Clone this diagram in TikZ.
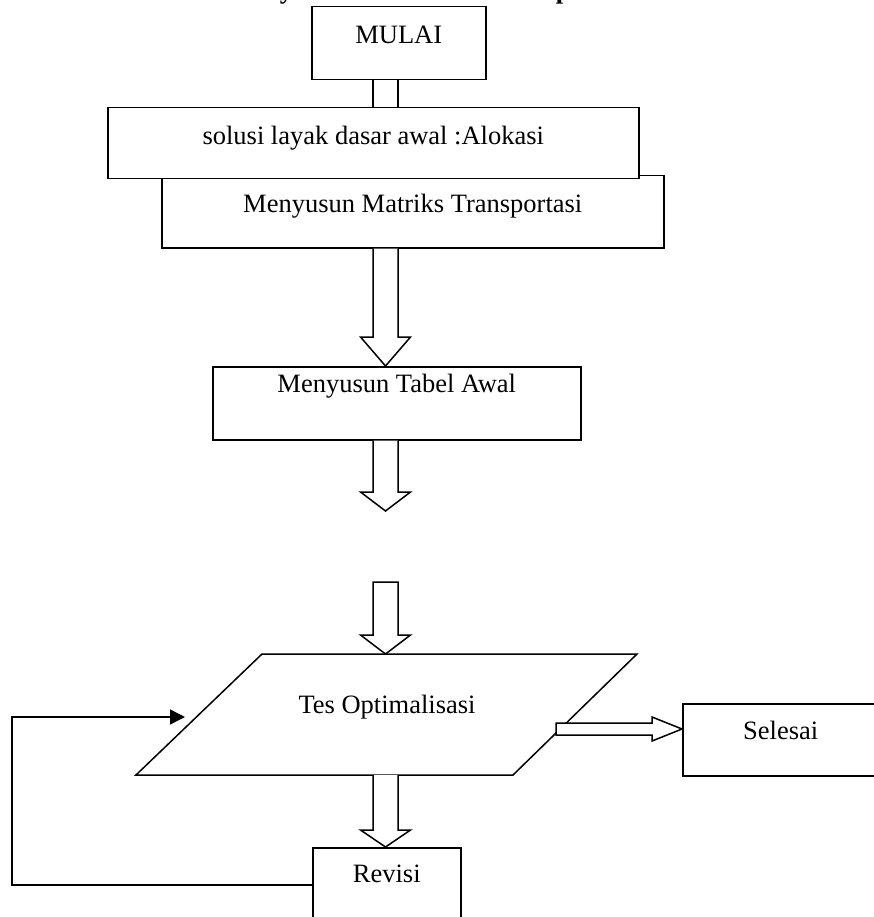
\documentclass[tikz,border=0pt]{standalone}
\usepackage{fontspec}
\setmainfont{Liberation Serif}
\usetikzlibrary{arrows.meta,calc}
\newcommand\blkdown[4]{% start, tip, head length, extra (cycle or empty)
  \draw[blk] ($(#1)+(-12.5,0)$) -- ($(#2)+(-12.5,-#3)$) -- ($(#2)+(-25,-#3)$) -- (#2)
    -- ($(#2)+(25,-#3)$) -- ($(#2)+(12.5,-#3)$) -- ($(#1)+(12.5,0)$) #4;}
\begin{document}
\begin{tikzpicture}[x=1pt,y=-1pt, line width=1.5pt,
  txt/.style={font=\fontsize{26.5}{30}\selectfont},
  box/.style={draw, fill=white, inner sep=0pt, txt, anchor=north west},
  blk/.style={draw, fill=white, line join=miter},
  lbl/.style={txt, inner sep=0pt, anchor=base},
  ttl/.style={font=\bfseries\fontsize{26.5}{30}\selectfont, inner sep=0pt, anchor=base west}]
\useasboundingbox (0,0) rectangle (873,917);
% clipped title (only descenders visible)
\node[ttl] (t1) at (279,-1) {y};
\node[ttl] (t2) at (555,-1) {p};
% boxes
\node[box, minimum width=174pt, text height=37pt, text depth=36pt] (mulai) at (311,6) {MULAI};
\node[box, minimum width=502pt, text height=37pt, text depth=35pt] (matriks) at (161,175) {Menyusun Matriks Transportasi};
\node[box, minimum width=531pt, text height=37pt, text depth=34pt] (solusi) at (107,107) {solusi layak dasar awal :Alokasi};
\node[box, minimum width=368pt, text height=26pt, text depth=47pt] (tabel) at (212,366) {Menyusun Tabel Awal};
\node[box, minimum width=196pt, text height=36pt, text depth=36pt] (selesai) at (682,703) {Selesai};
\node[box, minimum width=148pt, text height=35pt, text depth=48pt] (revisi) at (312,847) {Revisi};
% parallelogram
\coordinate (p1) at (262,654);
\coordinate (p2) at (637,654);
\coordinate (p3) at (513,775);
\coordinate (p4) at (136,775);
\draw[line join=miter] (p1) -- (p2) -- (p3) -- (p4) -- cycle;
\node[lbl] (tes) at (387,713) {Tes Optimalisasi};
% arrow axis
\coordinate (ax) at (385.5,0);
% MULAI -> solusi (shaft only)
\draw ($(mulai.south -| ax)+(-12.5,0)$) -- ($(solusi.north -| ax)+(-12.5,0)$);
\draw ($(mulai.south -| ax)+(12.5,0)$) -- ($(solusi.north -| ax)+(12.5,0)$);
% matriks -> tabel
\blkdown{matriks.south -| ax}{tabel.north -| ax}{29}{}
% tabel -> free end
\coordinate (e2) at (385.5,511);
\blkdown{tabel.south -| ax}{e2}{19}{}
% free start -> tes
\coordinate (s3) at (385.5,582);
\blkdown{s3}{ax |- p1}{19}{-- cycle}
% tes -> revisi
\blkdown{ax |- p4}{revisi.north -| ax}{17}{}
% tes -> selesai
\coordinate (s5) at (556,729);
\coordinate (e5) at (s5 -| selesai.west);
\draw[blk] ($(s5)+(0,-6)$) -- ($(e5)+(-30,-6)$) -- ($(e5)+(-30,-12)$) -- (e5)
  -- ($(e5)+(-30,12)$) -- ($(e5)+(-30,6)$) -- ($(s5)+(0,6)$) -- cycle;
% loop revisi -> tes
\coordinate (lb) at (12,885);
\coordinate (lt) at (12,717);
\coordinate (la) at (185,717);
\draw[-{Triangle[length=15pt,width=15pt]}] (lb -| revisi.west) -- (lb) -- (lt) -- (la);
\end{tikzpicture}
\end{document}
